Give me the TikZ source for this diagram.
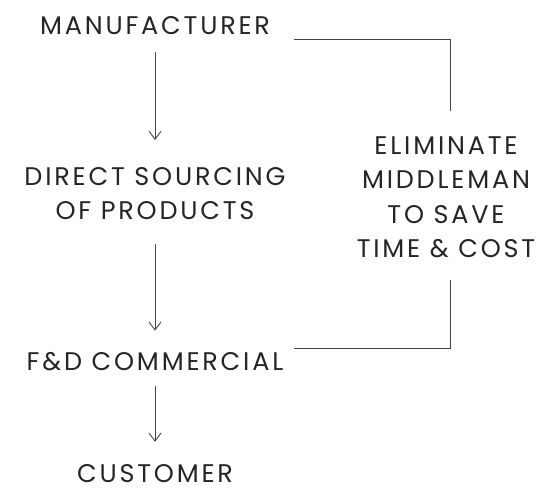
\documentclass[tikz,border=0pt]{standalone}
\usepackage{fontspec}
\setmainfont{Poppins}[LetterSpace=11]
\usetikzlibrary{arrows.meta}

\definecolor{ink}{HTML}{252525}
\definecolor{rule}{HTML}{444444}

\tikzset{
  steptext/.style={font=\fontsize{25.5}{34.5}\selectfont, text=ink,
    inner sep=0pt, align=center},
  flow/.style={draw=rule, line width=0.9pt,
    -{Straight Barb[length=8pt,width=12pt,line width=0.9pt]}},
  bracket/.style={draw=rule, line width=1pt},
}

\begin{document}
\begin{tikzpicture}[x=1pt,y=-1pt]

\useasboundingbox (0,0) rectangle (543,487); %% margins

%% main chain
\node[steptext, anchor=base]  (manu)     at (155,35)  {MANUFACTURER};
\node[steptext, anchor=north] (sourcing) at (155,167) {DIRECT SOURCING\\OF PRODUCTS};
\node[steptext, anchor=base]  (fd)       at (155,370) {F\&D COMMERCIAL};
\node[steptext, anchor=base]  (customer) at (155,482) {CUSTOMER};

%% side note
\node[steptext, anchor=north] (saving)   at (446,136)
  {ELIMINATE\\MIDDLEMAN\\TO SAVE\\TIME \& COST};

\draw[flow, shorten <=17pt, shorten >=27pt] (manu.south) -- (sourcing.north);
\draw[flow, shorten <=24pt, shorten >=21pt] (sourcing.south) -- (fd.north);
\draw[flow, shorten <=15pt, shorten >=22pt] (fd.south) -- (customer.north);

\draw[bracket] ([xshift=24pt,yshift=-4pt]manu.south east)
  -| ([xshift=4pt,yshift=25pt]saving.north);
\draw[bracket] ([xshift=4pt,yshift=-22pt]saving.south)
  |- ([xshift=11pt,yshift=3pt]fd.north east);

\end{tikzpicture}
\end{document}
